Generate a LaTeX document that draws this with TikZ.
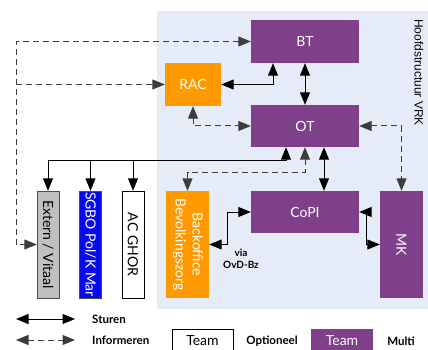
\documentclass[tikz,border=0pt]{standalone}
\usepackage{fontspec}
\setmainfont{Lato}
\newfontfamily\arialfont{Liberation Sans}
\usetikzlibrary{arrows.meta}
\usetikzlibrary{calc}

\definecolor{vrkpaars}{RGB}{127,63,139}
\definecolor{vrkoranje}{RGB}{255,153,0}
\definecolor{vrkblauw}{RGB}{10,10,240}
\definecolor{vrkgrijs}{RGB}{192,192,192}
\definecolor{vrkachter}{RGB}{230,236,247}
\definecolor{lijngrijs}{RGB}{60,60,60}

\tikzset{
	blok/.style={inner sep=0pt, font=\fontsize{14}{17}\selectfont},
	team/.style={blok, fill=vrkpaars, text=white},
	kolom/.style={blok, minimum width=22pt, minimum height=107pt},
	sturen/.style={line width=1pt, black, >={Triangle[length=12.5pt,width=10pt]}},
	informeren/.style={line width=1pt, lijngrijs, dash pattern=on 6pt off 4pt,
		>={Triangle[length=12.5pt,width=10pt]}},
	legenda/.style={font=\fontsize{11.5}{13}\selectfont\bfseries, inner sep=0pt}
}

\begin{document}
\begin{tikzpicture}[x=1pt, y=-1pt]
	% page: 428 x 350, y runs downwards
	\useasboundingbox (0,0) rectangle (428,350);
	\fill[vrkachter] (157,11) rectangle (428,309);
	\node[rotate=-90, font=\arialfont\fontsize{12}{14}\selectfont, inner sep=0pt] (kop) at (419,72.5) {Hoofdstructuur VRK};

	% teams
	\node[team, minimum width=108pt, minimum height=43pt] (BT) at (305,41.5) {BT};
	\node[team, minimum width=108pt, minimum height=42pt] (OT) at (305,126) {OT};
	\node[team, minimum width=108pt, minimum height=42pt] (CoPI) at (305,212) {CoPI};
	\node[team, minimum width=43pt, minimum height=107pt] (MK) at (401.5,244.5) {\rotatebox{-90}{MK}};
	\node[blok, fill=vrkoranje, text=white, minimum width=56pt, minimum height=43pt] (RAC) at (193,84.5) {RAC};
	\node[blok, fill=vrkoranje, text=white, minimum width=43pt, minimum height=107pt] (bo) at (187.5,244.5)
		{\rotatebox{-90}{\begin{tabular}{@{}c@{}}Backoffice\\Bevolkingszorg\end{tabular}}};

	% kolommen links
	\node[kolom, draw=black!70, fill=vrkgrijs] (ext) at (48,244.5) {\rotatebox{-90}{Extern / Vitaal}};
	\node[kolom, draw=black!70, fill=vrkblauw, text=white] (sgbo) at (90.5,244.5) {\rotatebox{-90}{SGBO Pol/K Mar}};
	\node[kolom, draw=black, fill=white] (ghor) at (133,244.5) {\rotatebox{-90}{AC GHOR}};

	% sturen
	\coordinate (bus) at (0,160);
	\draw[sturen,<->] (RAC.east) -| ([xshift=-32pt]BT.south);
	\draw[sturen,<->] (BT.south) -- (OT.north);
	\draw[sturen,<->] ([xshift=19pt]OT.south) -- ([xshift=19pt]CoPI.north);
	\draw[sturen,<->] ([xshift=-19pt]OT.south) |- (bus -| ext.north) -- (ext.north);
	\draw[sturen,->] (sgbo.north |- bus) -- (sgbo.north);
	\draw[sturen,->] (ghor.north |- bus) -- (ghor.north);
	\draw[sturen,<->] (bo.east) -- ++(18,0) |- (CoPI.west);
	\draw[sturen,<->] (CoPI.east) -- ++(7,0) |- (MK.west);
	\node[legenda, font=\fontsize{10}{12}\selectfont\bfseries, align=center] (via) at (241,259) {via\\OvD-Bz};

	% informeren
	\coordinate (hoek) at (16,0);
	\draw[informeren,<->] (BT.west) -- (BT.west -| hoek) |- (ext.west);
	\draw[informeren,->] (RAC.west -| hoek) -- (RAC.west);
	\draw[informeren,<->] (RAC.south) |- (OT.west);
	\draw[informeren,<->] (OT.east) -| (MK.north);
	\draw[informeren,<->] (OT.south) -- ++(0,25) -| (bo.north);

	% legenda
	\coordinate (st1) at (16,319);
	\coordinate (st2) at (75,319);
	\coordinate (in1) at (16,340);
	\coordinate (in2) at (75,340);
	\draw[sturen,<->] (st1) -- (st2);
	\draw[informeren,<->] (in1) -- (in2);
	\node[legenda, anchor=west] (lsturen) at (92,319) {Sturen};
	\node[legenda, anchor=west] (linform) at (92,340) {Informeren};
	\node[blok, draw=black, fill=white, minimum width=61pt, minimum height=24pt] (optbox) at (202.5,341) {Team};
	\node[legenda] (lopt) at (272,341) {Optioneel};
	\node[team, minimum width=62pt, minimum height=24pt] (multibox) at (342,341) {Team};
	\node[legenda] (lmulti) at (401,341) {Multi};
\end{tikzpicture}
\end{document}
